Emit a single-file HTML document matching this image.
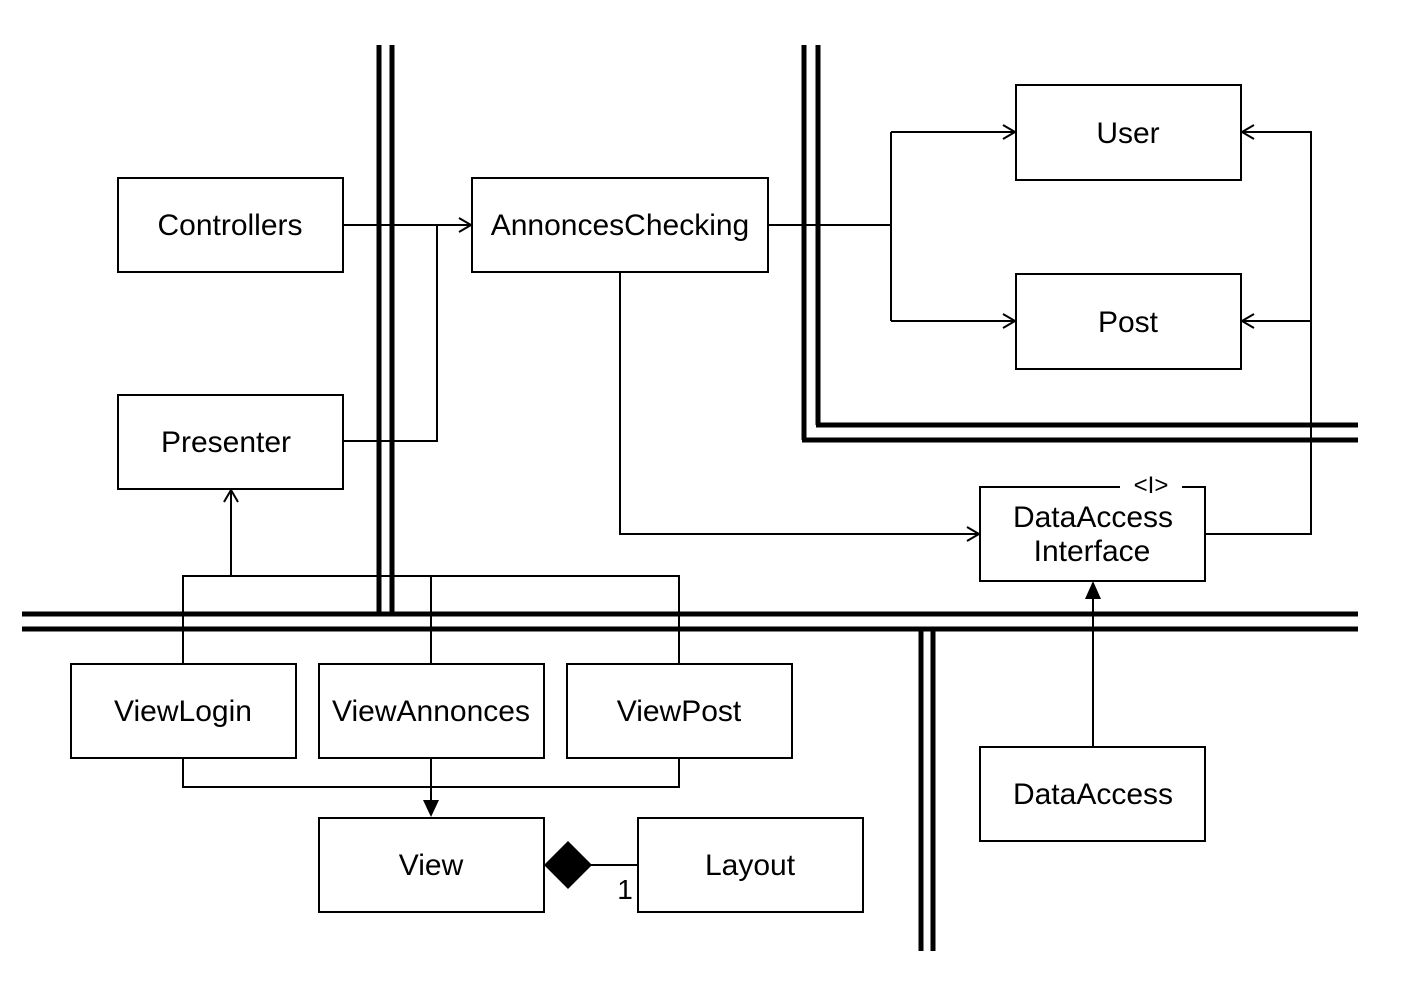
<!DOCTYPE html>
<html><head><meta charset="utf-8"><style>
html,body{margin:0;padding:0;background:#fff;}
svg{display:block;}
text{font-family:"Liberation Sans",sans-serif;font-size:30px;fill:#000;}
</style></head><body>
<svg width="1403" height="992" viewBox="0 0 1403 992" xmlns="http://www.w3.org/2000/svg">
<g stroke="#000" stroke-width="5" fill="none">
<line x1="379" y1="45" x2="379" y2="614"/>
<line x1="392" y1="45" x2="392" y2="614"/>
<line x1="804" y1="45" x2="804" y2="440"/>
<line x1="818" y1="45" x2="818" y2="425"/>
<line x1="816" y1="425" x2="1358" y2="425"/>
<line x1="802" y1="440" x2="1358" y2="440"/>
<line x1="22" y1="614" x2="1358" y2="614"/>
<line x1="22" y1="629" x2="1358" y2="629"/>
<line x1="921" y1="627" x2="921" y2="951"/>
<line x1="933" y1="627" x2="933" y2="951"/>
</g>
<g stroke="#000" stroke-width="2" fill="none">
<line x1="343" y1="225" x2="471" y2="225"/>
<polyline points="459,218 471,225 459,232"/>
<polyline points="343,441 437,441 437,225"/>
<line x1="768" y1="225" x2="891" y2="225"/>
<line x1="891" y1="132" x2="891" y2="321"/>
<line x1="891" y1="132" x2="1015" y2="132"/>
<line x1="891" y1="321" x2="1015" y2="321"/>
<polyline points="1003,125 1015,132 1003,139"/>
<polyline points="1003,314 1015,321 1003,328"/>
<polyline points="1205,534 1311,534 1311,132 1242,132"/>
<line x1="1311" y1="321" x2="1242" y2="321"/>
<polyline points="1254,125 1242,132 1254,139"/>
<polyline points="1254,314 1242,321 1254,328"/>
<polyline points="620,272 620,534 979,534"/>
<polyline points="967,527 979,534 967,541"/>
<line x1="1093" y1="747" x2="1093" y2="596"/>
<polyline points="183,664 183,576 679,576 679,664"/>
<line x1="431" y1="576" x2="431" y2="664"/>
<line x1="231" y1="576" x2="231" y2="490"/>
<polyline points="224,502 231,490 238,502"/>
<polyline points="183,758 183,787 679,787 679,758"/>
<line x1="431" y1="758" x2="431" y2="803"/>
<line x1="591" y1="865" x2="638" y2="865"/>
</g>
<polygon points="1085,599 1101,599 1093,581" fill="#000"/>
<polygon points="423,800 439,800 431,817" fill="#000"/>
<polygon points="544,865 568,841 592,865 568,889" fill="#000"/>
<g stroke="#000" stroke-width="2" fill="#fff">
<rect x="118" y="178" width="225" height="94"/>
<rect x="118" y="395" width="225" height="94"/>
<rect x="472" y="178" width="296" height="94"/>
<rect x="1016" y="85" width="225" height="95"/>
<rect x="1016" y="274" width="225" height="95"/>
<rect x="980" y="487" width="225" height="94"/>
<rect x="71" y="664" width="225" height="94"/>
<rect x="319" y="664" width="225" height="94"/>
<rect x="567" y="664" width="225" height="94"/>
<rect x="319" y="818" width="225" height="94"/>
<rect x="638" y="818" width="225" height="94"/>
<rect x="980" y="747" width="225" height="94"/>
</g>
<rect x="1120" y="480" width="62" height="14" fill="#fff"/>
<text x="1151" y="493" text-anchor="middle" style="font-size:24px">&lt;I&gt;</text>
<g text-anchor="middle">
<text x="230" y="235">Controllers</text>
<text x="226" y="452">Presenter</text>
<text x="620" y="235">AnnoncesChecking</text>
<text x="1128" y="143">User</text>
<text x="1128" y="332">Post</text>
<text x="1093" y="527">DataAccess</text>
<text x="1092" y="561">Interface</text>
<text x="183" y="721">ViewLogin</text>
<text x="431" y="721">ViewAnnonces</text>
<text x="679" y="721">ViewPost</text>
<text x="431" y="875">View</text>
<text x="750" y="875">Layout</text>
<text x="1093" y="804">DataAccess</text>
<text x="625" y="899" style="font-size:28px">1</text>
</g>
</svg>
</body></html>
